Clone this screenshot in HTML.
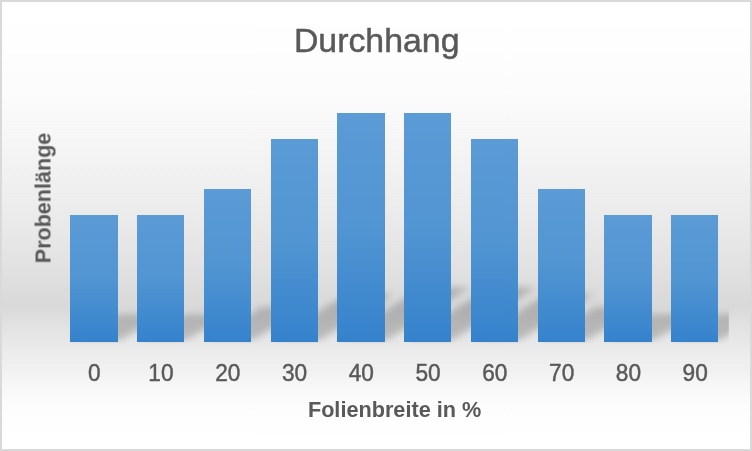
<!DOCTYPE html>
<html><head><meta charset="utf-8"><title>Durchhang</title>
<style>
html,body{margin:0;padding:0;background:#fff;}
body{width:752px;height:451px;overflow:hidden;font-family:"Liberation Sans",sans-serif;}
svg{display:block;}
text{font-family:"Liberation Sans",sans-serif;fill:#595959;}
</style></head><body>
<svg width="752" height="451" viewBox="0 0 752 451">
<defs>
<linearGradient id="page" x1="0" y1="0" x2="0" y2="1">
<stop offset="0.0000" stop-color="#ffffff"/>
<stop offset="0.0962" stop-color="#fefefe"/>
<stop offset="0.2192" stop-color="#fbfbfb"/>
<stop offset="0.3535" stop-color="#f3f3f3"/>
<stop offset="0.4765" stop-color="#ebebeb"/>
<stop offset="0.5772" stop-color="#e3e3e3"/>
<stop offset="0.6667" stop-color="#dadada"/>
<stop offset="0.6801" stop-color="#d9d9d9"/>
<stop offset="0.7025" stop-color="#dddddd"/>
<stop offset="0.7293" stop-color="#e3e3e3"/>
<stop offset="0.7562" stop-color="#e7e7e7"/>
<stop offset="0.7785" stop-color="#ebebeb"/>
<stop offset="0.8009" stop-color="#eeeeee"/>
<stop offset="0.8233" stop-color="#f1f1f1"/>
<stop offset="0.8456" stop-color="#f5f5f5"/>
<stop offset="0.8680" stop-color="#f8f8f8"/>
<stop offset="0.8904" stop-color="#fbfbfb"/>
<stop offset="0.9351" stop-color="#fefefe"/>
<stop offset="1.0000" stop-color="#ffffff"/>
</linearGradient>
<linearGradient id="bg" x1="0" y1="0" x2="0" y2="1">
<stop offset="0" stop-color="#5b9bd6"/>
<stop offset="0.5" stop-color="#5195d2"/>
<stop offset="1" stop-color="#3582cc"/>
</linearGradient>
<filter id="blur" x="-20%" y="-50%" width="140%" height="200%"><feGaussianBlur stdDeviation="3.8"/></filter>
<clipPath id="plot"><rect x="60.6" y="80" width="668.2" height="263.5"/></clipPath>
</defs>
<rect x="0" y="0" width="752" height="451" fill="#d9d9d9"/>
<rect x="2" y="2" width="748" height="447" fill="url(#page)"/>
<g clip-path="url(#plot)"><g filter="url(#blur)" fill="#000" fill-opacity="0.195" transform="translate(1.9,-1.9)">
<polygon points="70.00,342.0 118.00,342.0 164.15,315.79 116.15,315.79"/>
<polygon points="137.00,342.0 184.00,342.0 230.15,315.79 183.15,315.79"/>
<polygon points="204.00,342.0 251.00,342.0 306.60,309.05 259.60,309.05"/>
<polygon points="271.00,342.0 318.00,342.0 391.77,296.07 344.77,296.07"/>
<polygon points="337.00,342.0 385.00,342.0 468.22,289.33 420.22,289.33"/>
<polygon points="404.00,342.0 451.00,342.0 534.22,289.33 487.22,289.33"/>
<polygon points="471.00,342.0 518.00,342.0 591.77,296.07 544.77,296.07"/>
<polygon points="538.00,342.0 585.00,342.0 640.60,309.05 593.60,309.05"/>
<polygon points="604.00,342.0 652.00,342.0 698.15,315.79 650.15,315.79"/>
<polygon points="671.00,342.0 718.00,342.0 764.15,315.79 717.15,315.79"/>
</g></g>
<rect x="70.00" y="215" width="48" height="127.0" fill="url(#bg)"/>
<rect x="137.00" y="215" width="47" height="127.0" fill="url(#bg)"/>
<rect x="204.00" y="189" width="47" height="153.0" fill="url(#bg)"/>
<rect x="271.00" y="139" width="47" height="203.0" fill="url(#bg)"/>
<rect x="337.00" y="113" width="48" height="229.0" fill="url(#bg)"/>
<rect x="404.00" y="113" width="47" height="229.0" fill="url(#bg)"/>
<rect x="471.00" y="139" width="47" height="203.0" fill="url(#bg)"/>
<rect x="538.00" y="189" width="47" height="153.0" fill="url(#bg)"/>
<rect x="604.00" y="215" width="48" height="127.0" fill="url(#bg)"/>
<rect x="671.00" y="215" width="47" height="127.0" fill="url(#bg)"/>

<g opacity="0.999">
<text x="293.9" y="51.8" font-size="34" stroke="#595959" stroke-width="0.5" textLength="165.6" lengthAdjust="spacingAndGlyphs">Durchhang</text>
<g font-size="23.4" stroke="#595959" stroke-width="0.45">
<text x="87.89" y="380.9" textLength="12.62" lengthAdjust="spacingAndGlyphs">0</text>
<text x="148.36" y="380.9" textLength="25.24" lengthAdjust="spacingAndGlyphs">10</text>
<text x="215.14" y="380.9" textLength="25.24" lengthAdjust="spacingAndGlyphs">20</text>
<text x="281.92" y="380.9" textLength="25.24" lengthAdjust="spacingAndGlyphs">30</text>
<text x="348.70" y="380.9" textLength="25.24" lengthAdjust="spacingAndGlyphs">40</text>
<text x="415.48" y="380.9" textLength="25.24" lengthAdjust="spacingAndGlyphs">50</text>
<text x="482.26" y="380.9" textLength="25.24" lengthAdjust="spacingAndGlyphs">60</text>
<text x="549.04" y="380.9" textLength="25.24" lengthAdjust="spacingAndGlyphs">70</text>
<text x="615.82" y="380.9" textLength="25.24" lengthAdjust="spacingAndGlyphs">80</text>
<text x="682.60" y="380.9" textLength="25.24" lengthAdjust="spacingAndGlyphs">90</text>
</g>
<text x="307.9" y="417.4" font-size="21.6" font-weight="bold" textLength="173.4" lengthAdjust="spacingAndGlyphs">Folienbreite in %</text>
<text transform="translate(50.5,263.3) rotate(-90)" font-size="21.8" font-weight="bold" textLength="130.6" lengthAdjust="spacingAndGlyphs">Probenlänge</text>
</g>
</svg>
</body></html>
